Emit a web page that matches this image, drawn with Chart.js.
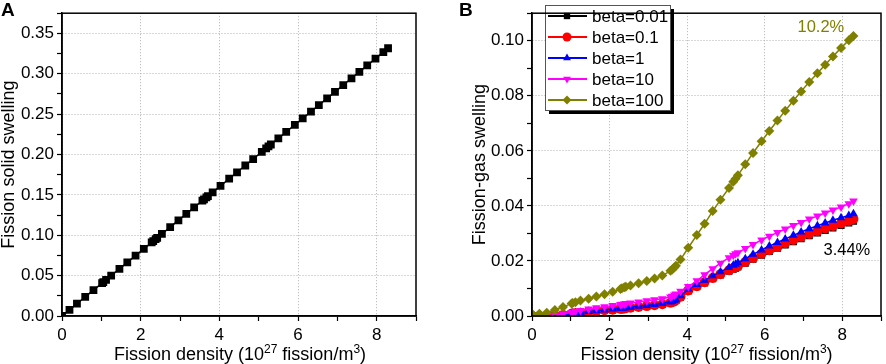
<!DOCTYPE html>
<html>
<head>
<meta charset="utf-8">
<script src="https://cdn.jsdelivr.net/npm/chart.js@4.4.1/dist/chart.umd.min.js"></script>
<style>
  body { margin: 0; background: #fff; }
  .wrap { display: flex; width: 886px; height: 364px; }
  canvas { display: block; }
</style>
</head>
<body>
<div class="wrap">
  <canvas id="solidChart" width="443" height="364"></canvas>
  <canvas id="gasChart" width="443" height="364"></canvas>
</div>
<script>
var FONT = 'Arial, "Liberation Sans", sans-serif';
Chart.defaults.font.family = FONT;
Chart.defaults.color = '#000';

// fission density, 10^27 fission/m3
var fissionDensity = [0, 0.19, 0.38, 0.59, 0.80, 1.02, 1.05, 1.12, 1.25, 1.46,
    1.66, 1.87, 2.08, 2.28, 2.32, 2.38, 2.42, 2.54, 2.75, 2.96,
    3.16, 3.36, 3.57, 3.61, 3.67, 3.71, 3.83, 4.03, 4.25, 4.45,
    4.66, 4.86, 5.08, 5.19, 5.25, 5.31, 5.50, 5.70, 5.92, 6.12,
    6.33, 6.53, 6.74, 6.94, 7.15, 7.36, 7.56, 7.76, 7.97, 8.17, 8.29];

var solidSwelling = [0, 0.0076, 0.0152, 0.0236, 0.032, 0.0408, 0.042, 0.0448, 0.05, 0.0584,
    0.0664, 0.0748, 0.0832, 0.0912, 0.0928, 0.0952, 0.0968, 0.1016, 0.11, 0.1184,
    0.1264, 0.1344, 0.1428, 0.1444, 0.1468, 0.1484, 0.1532, 0.1612, 0.17, 0.178,
    0.1864, 0.1944, 0.2032, 0.2076, 0.21, 0.2124, 0.22, 0.228, 0.2368, 0.2448,
    0.2532, 0.2612, 0.2696, 0.2776, 0.286, 0.2944, 0.3024, 0.3104, 0.3188, 0.3268, 0.3316];

var betaLabels = ['beta=0.01', 'beta=0.1', 'beta=1', 'beta=10', 'beta=100'];

var gasBeta001 = [0, 0, 0, 0.0001, 0.0004, 0.0008, 0.0009, 0.001, 0.0012, 0.0015,
    0.0018, 0.0021, 0.0023, 0.0026, 0.0026, 0.0027, 0.0028, 0.003, 0.0033, 0.0036,
    0.0039, 0.0043, 0.0048, 0.005, 0.0053, 0.0056, 0.0068, 0.0091, 0.0106, 0.012,
    0.0135, 0.0149, 0.0163, 0.017, 0.0174, 0.0178, 0.0192, 0.0206, 0.0221, 0.0234,
    0.0246, 0.0258, 0.027, 0.0281, 0.0292, 0.0302, 0.0311, 0.032, 0.0329, 0.0338, 0.0344];
var gasBeta01 = [0, 0, 0, 0.0001, 0.0004, 0.0008, 0.0009, 0.001, 0.0012, 0.0015,
    0.0018, 0.0021, 0.0023, 0.0026, 0.0026, 0.0027, 0.0028, 0.003, 0.0033, 0.0036,
    0.0039, 0.0043, 0.0048, 0.005, 0.0053, 0.0057, 0.007, 0.0093, 0.0108, 0.0123,
    0.0138, 0.0152, 0.0166, 0.0174, 0.0178, 0.0182, 0.0196, 0.0211, 0.0226, 0.0239,
    0.0251, 0.0264, 0.0276, 0.0287, 0.0298, 0.0308, 0.0318, 0.0327, 0.0336, 0.0345, 0.0352];
var gasBeta1 = [0, 0, 0, 0.0002, 0.0005, 0.0009, 0.001, 0.0011, 0.0013, 0.0016,
    0.0019, 0.0022, 0.0025, 0.0028, 0.0028, 0.0029, 0.003, 0.0032, 0.0035, 0.0038,
    0.0042, 0.0046, 0.0051, 0.0053, 0.0056, 0.006, 0.0074, 0.0097, 0.0114, 0.013,
    0.0146, 0.0161, 0.0176, 0.0184, 0.0188, 0.0193, 0.0208, 0.0224, 0.024, 0.0254,
    0.0267, 0.028, 0.0293, 0.0305, 0.0317, 0.0328, 0.0338, 0.0348, 0.0357, 0.0365, 0.0371];
var gasBeta10 = [0, 0, 0, 0.0003, 0.0008, 0.0013, 0.0014, 0.0016, 0.002, 0.0025,
    0.003, 0.0034, 0.0038, 0.0042, 0.0043, 0.0044, 0.0045, 0.0047, 0.0051, 0.0055,
    0.0059, 0.0063, 0.0069, 0.0072, 0.0076, 0.008, 0.009, 0.0107, 0.0128, 0.015,
    0.0172, 0.0192, 0.0212, 0.0221, 0.0226, 0.023, 0.0245, 0.026, 0.0276, 0.029,
    0.0303, 0.0316, 0.0329, 0.034, 0.0352, 0.0363, 0.0374, 0.0385, 0.0396, 0.0408, 0.0418];
var gasBeta100 = [0.0008, 0.0008, 0.0012, 0.0022, 0.0033, 0.0045, 0.0047, 0.005, 0.0056, 0.0063,
    0.0071, 0.0079, 0.0088, 0.0098, 0.0101, 0.0104, 0.0106, 0.0111, 0.0119, 0.0127,
    0.0136, 0.0147, 0.0164, 0.0168, 0.0176, 0.0183, 0.0205, 0.0248, 0.0294, 0.0335,
    0.0381, 0.0422, 0.0465, 0.0488, 0.0499, 0.0511, 0.0551, 0.0592, 0.0635, 0.0672,
    0.071, 0.0746, 0.0782, 0.0816, 0.085, 0.0882, 0.0913, 0.0943, 0.0974, 0.1002, 0.1017];

var betaColors = ['#000000', '#ff0000', '#0000ff', '#ff00ff', '#808000'];
var betaMarkers = ['rect', 'circle', 'triangle', 'triangle', 'rectRot'];

function toPoints(ys) {
    return fissionDensity.map(function(x, i) { return { x: x, y: ys[i] }; });
}

function isMajor(value, step) {
    return Math.round(value / step) % 2 === 0;
}

function xAxis() {
    return {
        type: 'linear', min: 0, max: 9,
        afterFit: function(s) { s.height = 48; },
        ticks: {
            stepSize: 1, autoSkip: false, maxRotation: 0, padding: 4,
            font: { size: 17 },
            callback: function(v) { return isMajor(v, 1) ? String(v) : ''; }
        },
        grid: {
            color: function(c) { return c.tick && isMajor(c.tick.value, 1) ? '#b0b0b0' : 'rgba(0,0,0,0)'; },
            tickColor: '#000', tickLength: 5, tickWidth: 1.2, lineWidth: 1
        },
        border: { display: true, color: '#000', width: 1.5, dash: [1, 2] },
        title: { display: false }
    };
}

function yAxis(max, step, width, title, decimals) {
    return {
        type: 'linear', min: 0, max: max,
        afterFit: function(s) { s.width = width; },
        ticks: {
            stepSize: step, autoSkip: false, padding: 3,
            font: { size: 17 },
            callback: function(v) { return isMajor(v, step) ? v.toFixed(decimals) : ''; }
        },
        grid: {
            color: function(c) { return c.tick && isMajor(c.tick.value, step) ? '#b0b0b0' : 'rgba(0,0,0,0)'; },
            tickColor: '#000', tickLength: 5, tickWidth: 1.2, lineWidth: 1
        },
        border: { display: true, color: '#000', width: 1.5, dash: [1, 2] },
        title: { display: true, text: title, font: { size: 18, lineHeight: 1 }, padding: 0 }
    };
}

// x title with real superscripts
function drawXTitle(ctx, cx, y) {
    var parts = [
        ['Fission density (10', 18, 0], ['27', 12, -7],
        [' fission/m', 18, 0], ['3', 12, -7], [')', 18, 0]
    ];
    var total = 0;
    parts.forEach(function(p) { ctx.font = p[1] + 'px ' + FONT; total += ctx.measureText(p[0]).width; });
    var x = cx - total / 2;
    ctx.textAlign = 'left';
    ctx.textBaseline = 'alphabetic';
    parts.forEach(function(p) {
        ctx.font = p[1] + 'px ' + FONT;
        ctx.fillText(p[0], x, y + p[2]);
        x += ctx.measureText(p[0]).width;
    });
}

// frame around the plot area, panel letter, x title and text labels
var framePlugin = {
    id: 'frame',
    afterDraw: function(chart, args, opts) {
        var ctx = chart.ctx, a = chart.chartArea;
        ctx.save();
        ctx.strokeStyle = '#000';
        ctx.lineWidth = 1.5;
        ctx.strokeRect(a.left, a.top, a.right - a.left, a.bottom - a.top);
        ctx.fillStyle = '#000';
        ctx.font = 'bold 19px ' + FONT;
        ctx.textBaseline = 'top';
        ctx.fillText(opts.letter, opts.letterX, 1);
        drawXTitle(ctx, (a.left + a.right) / 2 + opts.titleShift, 360);
        (opts.notes || []).forEach(function(n) {
            ctx.fillStyle = n.color;
            ctx.font = '16.5px ' + FONT;
            ctx.textAlign = 'center';
            ctx.textBaseline = 'middle';
            ctx.fillText(n.text, chart.scales.x.getPixelForValue(n.x), chart.scales.y.getPixelForValue(n.y));
        });
        ctx.restore();
    }
};

var gasLegend = {
    id: 'gasLegend',
    afterDatasetsDraw: function(chart) {
        var ctx = chart.ctx;
        var x0 = 102, y0 = 5, w = 125, h = 105;
        ctx.save();
        ctx.fillStyle = '#000';
        ctx.fillRect(x0 + 4, y0 + 4, w, h);
        ctx.fillStyle = '#fff';
        ctx.fillRect(x0, y0, w, h);
        ctx.strokeStyle = '#555';
        ctx.lineWidth = 1;
        ctx.strokeRect(x0 + 0.5, y0 + 0.5, w, h);
        chart.data.datasets.forEach(function(ds, i) {
            var y = 16 + i * 21;
            ctx.strokeStyle = ds.borderColor;
            ctx.lineWidth = 2;
            ctx.beginPath();
            ctx.moveTo(105, y);
            ctx.lineTo(144, y);
            ctx.stroke();
            ctx.fillStyle = ds.borderColor;
            Chart.helpers.drawPoint(ctx, {
                pointStyle: ds.pointStyle, radius: 4.5, rotation: ds.pointRotation || 0, borderWidth: 0
            }, 124, y);
            ctx.fillStyle = '#000';
            ctx.font = '17px ' + FONT;
            ctx.textAlign = 'left';
            ctx.textBaseline = 'middle';
            ctx.fillText(ds.label, 149, y + 1);
        });
        ctx.restore();
    }
};

var solidChart = new Chart(document.getElementById('solidChart'), {
    type: 'line',
    data: {
        datasets: [{
            label: 'solid',
            data: toPoints(solidSwelling),
            borderColor: '#000', backgroundColor: '#000',
            borderWidth: 1.5, pointStyle: 'rect', pointRadius: 5.5,
            pointBackgroundColor: '#000', pointBorderColor: '#000', pointBorderWidth: 0
        }]
    },
    options: {
        responsive: false, animation: false,
        layout: { padding: { left: 0, right: 27, top: 1, bottom: 0 } },
        plugins: {
            legend: { display: false }, tooltip: { enabled: false },
            frame: { letter: 'A', letterX: 1, titleShift: 1 }
        },
        scales: {
            x: xAxis(),
            y: yAxis(0.375, 0.025, 62, 'Fission solid swelling', 2)
        }
    },
    plugins: [framePlugin]
});

var gasSeries = [gasBeta001, gasBeta01, gasBeta1, gasBeta10, gasBeta100];

var gasChart = new Chart(document.getElementById('gasChart'), {
    type: 'line',
    data: {
        datasets: gasSeries.map(function(ys, i) {
            return {
                label: betaLabels[i],
                data: toPoints(ys),
                borderColor: betaColors[i], backgroundColor: betaColors[i],
                pointBackgroundColor: betaColors[i], pointBorderColor: betaColors[i],
                borderWidth: 1.5, pointRadius: 5, pointBorderWidth: 0,
                pointStyle: betaMarkers[i], pointRotation: i === 3 ? 180 : 0,
                order: 5 - i
            };
        })
    },
    options: {
        responsive: false, animation: false,
        layout: { padding: { left: 28, right: 1.5, top: 1, bottom: 0 } },
        plugins: {
            legend: { display: false }, tooltip: { enabled: false },
            frame: {
                letter: 'B', letterX: 16, titleShift: 0,
                notes: [
                    { text: '10.2%', x: 7.45, y: 0.1047, color: '#808000' },
                    { text: '3.44%', x: 8.12, y: 0.0237, color: '#000' }
                ]
            }
        },
        scales: {
            x: xAxis(),
            y: yAxis(0.11, 0.01, 61, 'Fission-gas swelling', 2)
        }
    },
    plugins: [framePlugin, gasLegend]
});
</script>
</body>
</html>
